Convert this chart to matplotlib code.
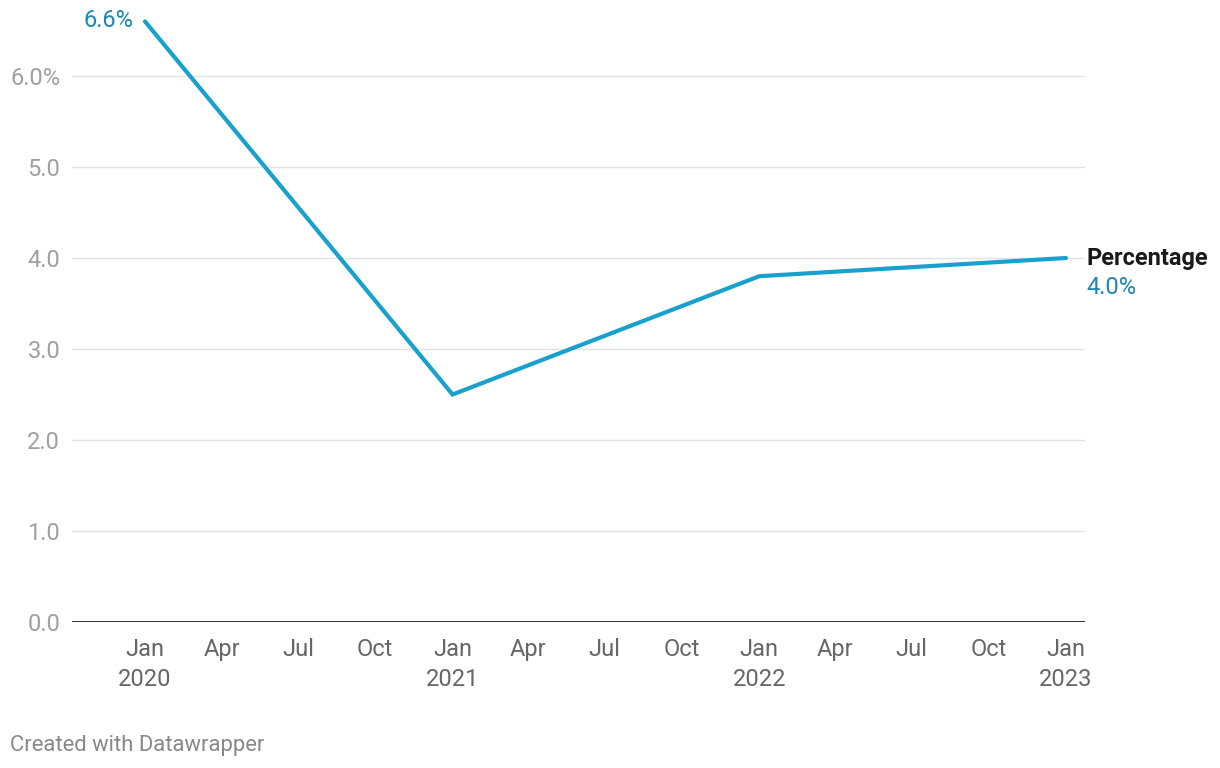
import matplotlib
matplotlib.use('Agg')
import matplotlib.pyplot as plt
import pandas as pd

plt.rcParams['font.family'] = ['Roboto', 'DejaVu Sans']

# Data
dates = pd.to_datetime(['2020-01-01', '2021-01-01', '2022-01-01', '2023-01-01'])
values = [6.6, 2.5, 3.8, 4.0]
series_name = 'Percentage'

yticks = [0, 1, 2, 3, 4, 5, 6]
ytick_labels = ['0.0', '1.0', '2.0', '3.0', '4.0', '5.0', '6.0%']
tick_dates = pd.date_range('2020-01-01', '2023-01-01', freq='QS')
tick_labels = [f'Jan\n{d.year}' if d.month == 1 else d.strftime('%b') for d in tick_dates]

line_color = '#18a1cd'
label_color = '#1a86b2'

W, H = 1220, 768
fig = plt.figure(figsize=(W / 100, H / 100), dpi=100)
x0, x1 = 72, 1085
y_zero, px_per_unit = 622, 91
ytop = 6.7
ax = fig.add_axes([x0 / W, (H - y_zero) / H, (x1 - x0) / W, ytop * px_per_unit / H])

# x scale: Jan 2020 at 145px, Jan 2023 at 1066px
day_px = (1066 - 145) / (dates[-1] - dates[0]).days
left = dates[0] - pd.Timedelta(days=(145 - x0) / day_px)
right = dates[-1] + pd.Timedelta(days=(x1 - 1066) / day_px)
ax.set_xlim(left, right)
ax.set_ylim(0, ytop)

for y in yticks[1:]:
    ax.axhline(y, color='#e2e2e2', lw=1, zorder=1)
ax.axhline(0, color='#1a1a1a', lw=2, zorder=2)

ax.plot(dates, values, color=line_color, lw=3, solid_joinstyle='miter',
        solid_capstyle='round', clip_on=False, zorder=3)

for s in ax.spines.values():
    s.set_visible(False)
ax.set_yticks(yticks)
ax.set_yticklabels(ytick_labels)
ax.tick_params(axis='y', length=0, pad=8.5, labelsize=17, labelcolor='#a0a0a0')
ax.set_xticks(tick_dates)
ax.set_xticklabels(tick_labels, linespacing=1.4, va='top')
ax.tick_params(axis='x', length=0, pad=11.5, labelsize=17, labelcolor='#666666')

# value labels
ax.annotate(f'{values[0]:.1f}%', (dates[0], values[0]), xytext=(-8, 1),
            textcoords='offset points', ha='right', va='center',
            fontsize=17, color=label_color, annotation_clip=False)
ax.annotate(series_name, (dates[-1], values[-1]), xytext=(15, 0),
            textcoords='offset points', ha='left', va='center',
            fontsize=17, fontweight='bold', color='#1a1a1a', annotation_clip=False)
ax.annotate(f'{values[-1]:.1f}%', (dates[-1], values[-1]), xytext=(15, -21),
            textcoords='offset points', ha='left', va='center',
            fontsize=17, color=label_color, annotation_clip=False)

fig.text(10 / W, 1 - 745 / H, 'Created with Datawrapper', ha='left', va='center',
         fontsize=15.8, color='#888888')

fig.savefig('out.png', dpi=100)
